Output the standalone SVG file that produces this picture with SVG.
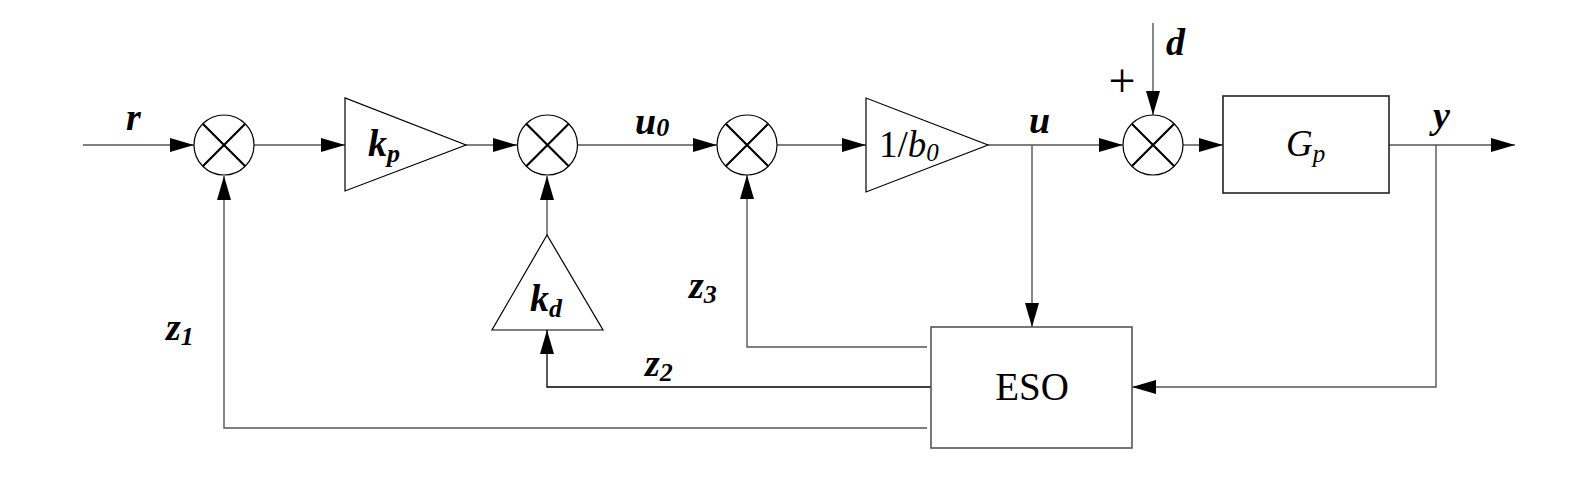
<svg xmlns="http://www.w3.org/2000/svg" width="1595" height="489" viewBox="0 0 1595 489">
<defs>
<marker id="arr" markerUnits="userSpaceOnUse" markerWidth="24" markerHeight="14" refX="24" refY="7" orient="auto">
<path d="M0,0 L24,7 L0,14 Z" fill="#000"/>
</marker>
<style>
.ln{fill:none;stroke:#555;stroke-width:1.4}
.blk{fill:none;stroke:#000;stroke-width:1.3}
.sum circle{fill:#fff;stroke:#000;stroke-width:1.2}
.sum path{stroke:#000;stroke-width:2.2;fill:none}
.tri{fill:#fff;stroke:#000;stroke-width:1.2}
.box{fill:#fff;stroke:#555;stroke-width:1.6}
text{font-family:'Liberation Serif','Times New Roman',Times,serif;fill:#000}
.lbl{font-weight:bold;font-style:italic;font-size:38px}
.sub{font-size:26px}
.rm{font-size:37px}
.it{font-style:italic}
.sm{font-size:25px}
.plus{font-size:48px}
.eso{font-size:39px}
</style>
</defs>
<rect width="1595" height="489" fill="#fff"/>
<g id="connectors">
<path class="ln" d="M83,145 H194" marker-end="url(#arr)"/>
<path class="ln" d="M254,145 H345" marker-end="url(#arr)"/>
<path class="ln" d="M466,145 H517" marker-end="url(#arr)"/>
<path class="ln" d="M578,145 H717" marker-end="url(#arr)"/>
<path class="ln" d="M777,145 H866" marker-end="url(#arr)"/>
<path class="ln" d="M988,145 H1123" marker-end="url(#arr)"/>
<path class="ln" d="M1183,145 H1223" marker-end="url(#arr)"/>
<path class="ln" d="M1389,145 H1515" marker-end="url(#arr)"/>
<path class="ln" d="M1153,23 V115" marker-end="url(#arr)"/>
<path class="ln" d="M1032,145 V327" marker-end="url(#arr)"/>
<path class="ln" d="M1436,145 V387 H1132" marker-end="url(#arr)"/>
<path class="ln" d="M927,347 H747 V175" marker-end="url(#arr)"/>
<path class="blk" d="M931,387 H547 V330" marker-end="url(#arr)"/>
<path class="ln" d="M927,428 H224 V176" marker-end="url(#arr)"/>
<path class="ln" d="M547,235 V176" marker-end="url(#arr)"/>
</g>
<g id="sum1" class="sum"><circle cx="224" cy="145" r="30"/><path d="M203,124 L245,166 M245,124 L203,166"/></g>
<g id="sum2" class="sum"><circle cx="547.5" cy="145" r="30"/><path d="M526.5,124 L568.5,166 M568.5,124 L526.5,166"/></g>
<g id="sum3" class="sum"><circle cx="747" cy="145" r="30"/><path d="M726,124 L768,166 M768,124 L726,166"/></g>
<g id="sum4" class="sum"><circle cx="1153" cy="145" r="30"/><path d="M1132,124 L1174,166 M1174,124 L1132,166"/></g>
<g id="kp"><polygon class="tri" points="345,98 345,191 466,145"/><text class="lbl" x="368" y="156">k<tspan class="sub" dy="6">p</tspan></text></g>
<g id="kd"><polygon class="tri" points="547,235 492,330 603,330"/><text class="lbl" x="530" y="311">k<tspan class="sub" dy="6">d</tspan></text></g>
<g id="inv_b0"><polygon class="tri" points="866,98 866,192 988,145"/><text class="rm" x="879" y="157">1/<tspan class="it">b</tspan><tspan class="it sm" dy="4">0</tspan></text></g>
<g id="Gp"><rect class="box" x="1223" y="96" width="166" height="97" style="stroke:#222"/><text class="rm it" x="1286" y="156">G<tspan class="sm" dy="6">p</tspan></text></g>
<g id="ESO"><rect class="box" x="931" y="327" width="201" height="121"/><text class="eso" x="1032" y="400" text-anchor="middle">ESO</text></g>
<g id="labels">
<text class="lbl" x="126" y="130">r</text>
<text class="lbl" x="635" y="134">u<tspan class="sub" dy="2">0</tspan></text>
<text class="lbl" x="1029" y="133">u</text>
<text class="lbl" x="1166" y="55">d</text>
<text class="lbl" x="1433" y="128">y</text>
<text class="plus" x="1122" y="97" text-anchor="middle">+</text>
<text class="lbl" x="166" y="340">z<tspan class="sub" dy="5">1</tspan></text>
<text class="lbl" x="689" y="298">z<tspan class="sub" dy="5">3</tspan></text>
<text class="lbl" x="645" y="376">z<tspan class="sub" dy="5">2</tspan></text>
</g>
</svg>
